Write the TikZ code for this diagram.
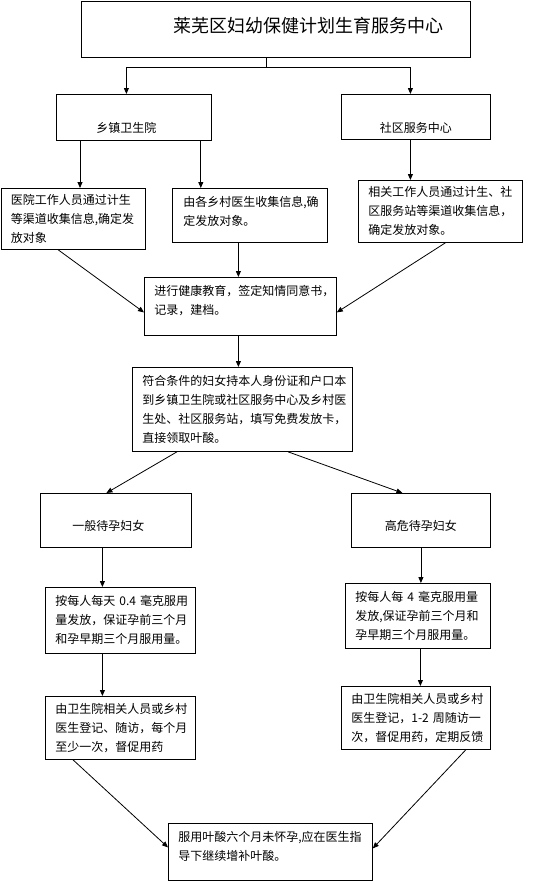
\documentclass[tikz,border=0pt]{standalone}
\usepackage{fontspec}
\newfontfamily\cjk{Noto Sans CJK SC}
\usepackage{tikz}
\usetikzlibrary{arrows.meta}
\tikzstyle{box}=[draw, line width=0.8pt, anchor=north west, inner sep=0pt, font=\cjk\fontsize{12}{19}\selectfont]
\tikzstyle{note}=[box, align=left]
\tikzstyle{flow}=[line width=0.8pt, -{Triangle[length=6pt,width=5pt]}]
\newcommand{\padlow}[1]{\rule[-#1]{0pt}{#1}}

\begin{document}
\begin{tikzpicture}[x=1pt,y=-1pt]
\useasboundingbox (0,0) rectangle (552,881);

\node[box, minimum width=389pt, minimum height=56pt, font=\cjk\fontsize{18}{22}\selectfont, text height=16pt, text depth=10pt] (title) at (81,1) {\hspace*{65pt}莱芜区妇幼保健计划生育服务中心};

\node[box, minimum width=155pt, minimum height=46pt, text height=31pt, text depth=0pt] (xz) at (56,94) {乡镇卫生院\hspace*{15pt}};
\node[box, minimum width=149pt, minimum height=45pt, text height=32pt, text depth=0pt] (sq) at (341,94) {社区服务中心};

\node[note, minimum width=144.5pt, minimum height=61pt, text width=124.5pt] (yy) at (0.5,188) {医院工作人员通过计生\\等渠道收集信息,确定发\\放对象};
\node[note, minimum width=155pt, minimum height=54pt, text width=133pt] (cy) at (172,188) {由各乡村医生收集信息,确\\定发放对象。\padlow{9pt}};
\node[note, minimum width=164pt, minimum height=62pt, text width=144pt] (xg) at (358,180) {相关工作人员通过计生、社\\区服务站等渠道收集信息，\\确定发放对象。};

\node[note, minimum width=192pt, minimum height=58pt, text width=172pt] (jy) at (144,277) {进行健康教育，签定知情同意书，\\记录，建档。\padlow{13pt}};
\node[note, minimum width=220pt, minimum height=84pt, text width=200pt] (fh) at (132,367) {符合条件的妇女持本人身份证和户口本\\到乡镇卫生院或社区服务中心及乡村医\\生处、社区服务站，填写免费发放卡，\\直接领取叶酸。};

\node[box, minimum width=151pt, minimum height=54pt, text height=21pt, text depth=0pt] (yb) at (40,493) {一般待孕妇女\hspace*{15pt}};
\node[box, minimum width=139pt, minimum height=54pt, text height=21pt, text depth=0pt] (gw) at (351,493) {高危待孕妇女};

\node[note, minimum width=150pt, minimum height=66pt, text width=130pt] (ay) at (45,587) {按每人每天~0.4~毫克服用\\量发放，保证孕前三个月\\和孕早期三个月服用量。};
\node[note, minimum width=145pt, minimum height=65pt, text width=125pt] (ag) at (345,583) {按每人每~4~毫克服用量\\发放,保证孕前三个月和\\孕早期三个月服用量。};

\node[note, minimum width=150pt, minimum height=63pt, text width=130pt] (sl) at (45,696) {由卫生院相关人员或乡村\\医生登记、随访，每个月\\至少一次，督促用药};
\node[note, minimum width=149pt, minimum height=63pt, text width=129pt] (sr) at (341,686) {由卫生院相关人员或乡村\\\mbox{医生登记，1-2~周随访一}\\次，督促用药，定期反馈};

\node[note, minimum width=204pt, minimum height=57pt, text width=184pt] (fy) at (168,823) {服用叶酸六个月未怀孕,应在医生指\\导下继续增补叶酸。\padlow{12pt}};

\coordinate (split) at (266,67);
\draw[line width=0.8pt] (split |- title.south) -- (split);
\draw[flow] (split) -| ([xshift=-7.5pt]xz.north);
\draw[flow] (split) -| ([xshift=-5.5pt]sq.north);

\draw[flow] ([xshift=24pt]xz.south west) -- ([xshift=24pt]xz.south west |- yy.north);
\draw[flow] ([xshift=-11pt]xz.south east) -- ([xshift=-11pt]xz.south east |- cy.north);
\draw[flow] ([xshift=-5.5pt]sq.south) -- ([xshift=-5.5pt]sq.south |- xg.north);

\draw[flow] ([xshift=-2pt]jy.north |- cy.south) -- ([xshift=-2pt]jy.north);
\draw[flow] ([xshift=-15pt]yy.south) -- ([yshift=-6pt]jy.west);
\draw[flow] ([xshift=5pt]xg.south) -- ([yshift=-6pt]jy.east);

\draw[flow] ([xshift=-2pt]jy.south) -- ([xshift=-2pt]jy.south |- fh.north);
\draw[flow] ([xshift=45pt]fh.south west) -- ([xshift=-9.5pt]yb.north);
\draw[flow] ([xshift=156pt]fh.south west) -- ([xshift=-18.5pt]gw.north);

\draw[flow] ([xshift=-13.5pt]yb.south) -- ([xshift=-13.5pt]yb.south |- ay.north);
\draw[flow] (gw.south) -- (gw.south |- ag.north);
\draw[flow] ([xshift=-18pt]ay.south) -- ([xshift=-18pt]ay.south |- sl.north);
\draw[flow] ([xshift=2.5pt]ag.south) -- ([xshift=2.5pt]ag.south |- sr.north);

\draw[flow] ([xshift=28pt]sl.south west) -- ([yshift=4.5pt]fy.west);
\draw[flow] ([xshift=-25pt]sr.south east) -- ([yshift=3.5pt]fy.east);
\end{tikzpicture}
\end{document}
